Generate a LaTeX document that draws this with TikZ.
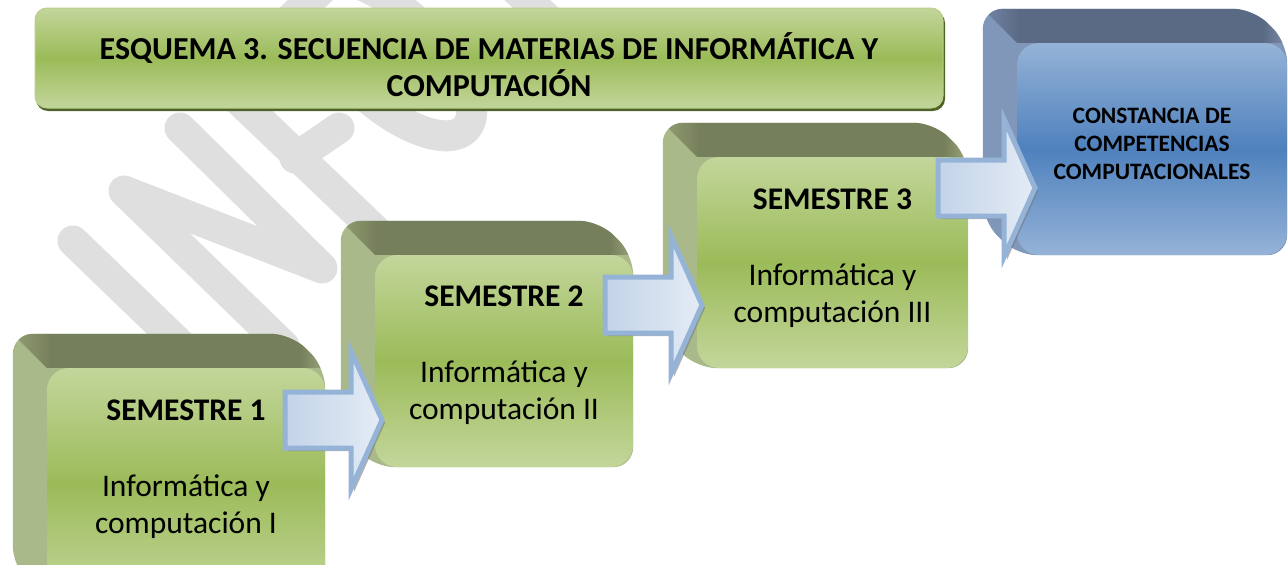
\documentclass[tikz,border=0pt]{standalone}
\usepackage{fontspec}
\setmainfont{Carlito}
\usetikzlibrary{positioning,calc,backgrounds}

\definecolor{wmgrey}{HTML}{DFDFDF}
\definecolor{greenlight}{HTML}{C3D69B}
\definecolor{greenmid}{HTML}{9BBB59}
\definecolor{greendark}{HTML}{4F6228}
\definecolor{olivetop}{HTML}{767F5B}
\definecolor{oliveside}{HTML}{A9B98A}
\definecolor{olivecorner}{HTML}{929E72}
\definecolor{oliveedge}{HTML}{9AA57C}
\definecolor{bluelight}{HTML}{95B3D7}
\definecolor{bluemid}{HTML}{4F81BD}
\definecolor{bluetop}{HTML}{5B6A84}
\definecolor{blueside}{HTML}{8197B9}
\definecolor{bluecorner}{HTML}{7286A6}
\definecolor{blueedge}{HTML}{7E8FAA}
\definecolor{arrowedge}{HTML}{95B3D7}
\definecolor{arrowfill}{HTML}{E4ECF5}
\definecolor{arrowdark}{HTML}{C3D3E9}

\pgfdeclarehorizontalshading{olivetopshade}{100bp}{color(0bp)=(oliveside); color(25bp)=(olivecorner);
  color(31bp)=(olivetop); color(71bp)=(olivetop); color(75bp)=(oliveedge); color(100bp)=(oliveedge)}
\pgfdeclarehorizontalshading{bluetopshade}{100bp}{color(0bp)=(blueside); color(25bp)=(bluecorner);
  color(31bp)=(bluetop); color(71bp)=(bluetop); color(75bp)=(blueedge); color(100bp)=(blueedge)}

\tikzset{
  watermark/.style={wmgrey, line width=31pt, line cap=round, line join=round},
  titlebox/.style={rounded corners=12pt, top color=greenlight, bottom color=greenlight,
    middle color=greenmid, draw=greenmid!70!white, line width=1pt, inner sep=0pt},
  titletext/.style={align=center, inner sep=0pt, font=\bfseries\fontsize{32}{37}\selectfont},
  semfront/.style={rounded corners=22pt, top color=greenlight, bottom color=greenlight,
    middle color=greenmid, inner sep=0pt},
  bluefront/.style={rounded corners=22pt, top color=bluelight, bottom color=bluelight,
    middle color=bluemid, inner sep=0pt},
  semhead/.style={inner sep=0pt, font=\bfseries\fontsize{31.5}{37}\selectfont},
  semtext/.style={inner sep=0pt, align=center, font=\fontsize{31.5}{37}\selectfont},
  bluetext/.style={inner sep=0pt, align=center, font=\bfseries\fontsize{23.5}{28}\selectfont},
  flechabox/.style={draw=arrowedge, line width=5pt, left color=arrowdark, right color=arrowfill},
  flechashadow/.style={fill=black!55, opacity=0.55}
}

% back part of a box: #1 front node, #2 side colour, #3 top shading
\newcommand{\backblock}[3]{%
  \fill[#2, rounded corners=20pt] ($(#1.south west)+(-34,-34)$) -- ($(#1.north west)+(-34,-34)$)
    -- ($(#1.north east)+(-34,-34)$) -- (#1.north east) -- (#1.south east) -- (#1.south west) -- cycle;
  \begin{scope}
    \clip[rounded corners=20pt] ($(#1.south west)+(-34,-34)$) -- ($(#1.north west)+(-34,-34)$)
      -- ($(#1.north east)+(-34,-34)$) -- (#1.north east) -- (#1.south east) -- (#1.south west) -- cycle;
    \shade[shading=#3] ($(#1.north west)+(-34,-34)$) -- ($(#1.north east)+(-34,-34)$)
      -- (#1.north east) -- (#1.north west) -- cycle;
  \end{scope}}

% block arrow: #1 shaft start x, #2 centre y
\newcommand{\flecha}[2]{%
  \fill[flechashadow] (#1+3,#2+3) ++(0,-28) -- ++(66,0) -- ++(0,-41) -- ++(31,69)
    -- ++(-31,69) -- ++(0,-41) -- ++(-66,0) -- cycle;
  \path[flechabox] (#1,#2) ++(0,-28) -- ++(66,0) -- ++(0,-41) -- ++(31,69)
    -- ++(-31,69) -- ++(0,-41) -- ++(-66,0) -- cycle;}

\begin{document}
\begin{tikzpicture}[x=1pt,y=-1pt]
\useasboundingbox (0,0) rectangle (1288,565);

% title
\fill[greendark, rounded corners=12pt] (36,11) rectangle (945,111);
\node[titlebox, minimum width=908pt, minimum height=100pt] (titulo) at (489,58) {};
\node[titletext] (titulotxt) at ($(titulo.center)+(0,7)$)
  {ESQUEMA 3. SECUENCIA DE MATERIAS DE INFORMÁTICA Y\\COMPUTACIÓN};

% semesters
\node[semfront, minimum width=278pt, minimum height=232pt] (s1) at (186,484) {};
\node[semhead] (h1) at ($(s1.north)+(0,42)$) {SEMESTRE 1};
\node[semtext, below=54pt of h1] (t1) {Informática y\\computación I};

\node[semfront, minimum width=258pt, minimum height=212pt] (s2) at (504,361) {};
\node[semhead] (h2) at ($(s2.north)+(0,41)$) {SEMESTRE 2};
\node[semtext, below=54pt of h2] (t2) {Informática y\\computación II};

\node[semfront, minimum width=271pt, minimum height=211pt] (s3) at (832.5,262.5) {};
\node[semhead] (h3) at ($(s3.north)+(0,42)$) {SEMESTRE 3};
\node[semtext, below=54pt of h3] (t3) {Informática y\\computación III};

\node[bluefront, minimum width=270pt, minimum height=212pt] (s4) at (1152,149) {};
\node[bluetext] (t4) at ($(s4.center)+(0,-5)$) {CONSTANCIA DE\\COMPETENCIAS\\COMPUTACIONALES};

\begin{pgfonlayer}{background}
  % watermark
  \draw[watermark] (73,241) -- (213,376);
  \draw[watermark] (284,346) -- (124,191) -- (322,268) -- (180,128);
  \draw[watermark] (376,231) -- (222,84) -- (345,-33);
  \draw[watermark] (295,158) -- (339,128);
  \draw[watermark, rotate around={47:(389,57)}] (389,57) ellipse [x radius=45, y radius=105];
  \draw[watermark] (574,43) -- (414,-104);
  % box backs
  \backblock{s1}{oliveside}{olivetopshade}
  \backblock{s2}{oliveside}{olivetopshade}
  \backblock{s3}{oliveside}{olivetopshade}
  \backblock{s4}{blueside}{bluetopshade}
\end{pgfonlayer}

% arrows
\flecha{285}{420}
\flecha{605}{305}
\flecha{938}{188}
\end{tikzpicture}
\end{document}
